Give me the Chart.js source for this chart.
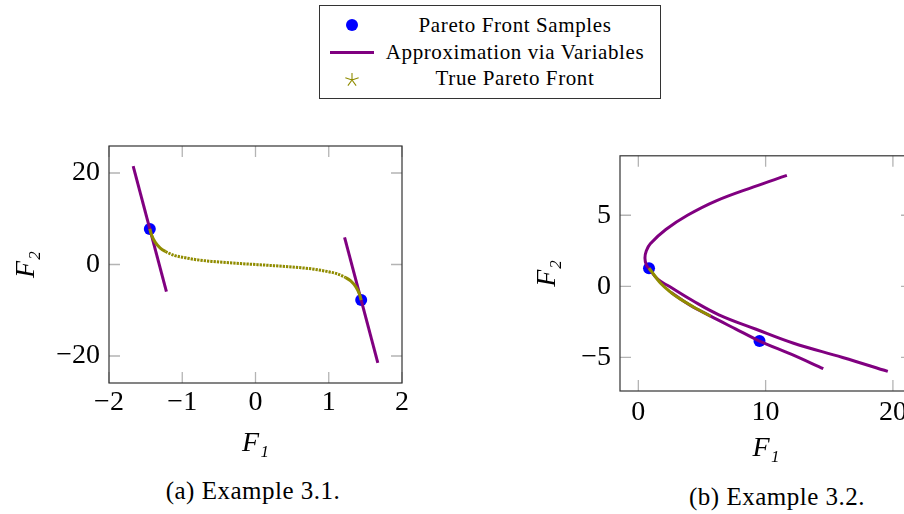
<!DOCTYPE html>
<html>
<head>
<meta charset="utf-8">
<title>Pareto fronts</title>
<script src="https://cdn.jsdelivr.net/npm/chart.js@4.4.1/dist/chart.umd.min.js"></script>
<style>
  html, body { margin: 0; padding: 0; background: #fff; overflow: hidden; }
  body { width: 904px; height: 514px; position: relative; font-family: "Liberation Serif", "DejaVu Serif", serif; color: #000; }
  .plot { position: absolute; }
  #legend { position: absolute; left: 319px; top: 5px; width: 342px; height: 94px; box-sizing: border-box; border: 1px solid #333; }
  .lg-text { position: absolute; left: 195px; transform: translate(-50%, -50%); white-space: nowrap; font-size: 21px; letter-spacing: 0.6px; line-height: 1; }
  .lg-dot { position: absolute; left: 26px; top: 13px; width: 12px; height: 12px; border-radius: 50%; background: #0000ff; }
  .lg-line { position: absolute; left: 10px; top: 45px; width: 44px; height: 3px; background: #800080; }
  .lg-star { position: absolute; left: 24px; top: 66px; }
  .caption { position: absolute; transform: translate(-50%, -50%); white-space: nowrap; font-size: 25px; letter-spacing: 0.5px; line-height: 1; }
</style>
</head>
<body>

<div id="legend">
  <span class="lg-dot"></span>
  <span class="lg-text" style="top:19px">Pareto Front Samples</span>
  <span class="lg-line"></span>
  <span class="lg-text" style="top:46px">Approximation via Variables</span>
  <svg class="lg-star" width="16" height="16" viewBox="-8 -8 16 16">
    <path d="M0 0L0 -7M0 0L6.66 -2.16M0 0L4.11 5.66M0 0L-4.11 5.66M0 0L-6.66 -2.16" stroke="#908c00" stroke-width="1.1" fill="none"/>
  </svg>
  <span class="lg-text" style="top:72px">True Pareto Front</span>
</div>

<div class="plot" style="left:0px; top:120px;"><canvas id="plotA" width="440" height="350"></canvas></div>
<div class="plot" style="left:520px; top:130px;"><canvas id="plotB" width="420" height="350"></canvas></div>

<div class="caption" style="left:253px; top:490px;">(a) Example 3.1.</div>
<div class="caption" style="left:777px; top:496px;">(b) Example 3.2.</div>

<script>
// ---- Example 3.1 ----
const ex1SampleF1 = [-1.443, 1.443];
const ex1SampleF2 = [7.77, -7.77];

// two linear approximations through the samples
const ex1ApproxLeftF1 = [-1.67, -1.216];
const ex1ApproxLeftF2 = [21.5, -5.95];
const ex1ApproxRightF1 = [1.216, 1.67];
const ex1ApproxRightF2 = [5.95, -21.5];

const ex1FrontF1 = [-1.443, -1.42, -1.37, -1.3, -1.23, -1.1, -1.0, -0.8, -0.6, -0.4, -0.2, 0,
                    0.2, 0.4, 0.6, 0.8, 1.0, 1.1, 1.23, 1.3, 1.37, 1.42, 1.443];
const ex1FrontF2 = [7.77, 6.5, 4.9, 3.6, 2.85, 1.95, 1.6, 1.03, 0.68, 0.42, 0.2, 0,
                    -0.2, -0.42, -0.68, -1.03, -1.6, -1.95, -2.85, -3.6, -4.9, -6.5, -7.77];

const ex1TicksF1 = [-2, -1, 0, 1, 2];
const ex1TicksF2 = [-20, 0, 20];

// ---- Example 3.2 ----
const ex2SampleF1 = [0.84, 9.52];
const ex2SampleF2 = [1.28, -3.85];

// upper approximation bends back on itself, so it is listed top to bottom in F2
const ex2ApproxUpperF1 = [11.67, 9.06, 6.07, 3.86, 2.16, 0.94, 0.63, 0.52, 0.63, 0.84, 1.52, 2.42,
                          4.25, 6.33, 9.2, 12.2, 16.05, 19.6];
const ex2ApproxUpperF2 = [7.8, 7.0, 6.0, 5.0, 4.0, 3.0, 2.5, 2.0, 1.5, 1.25, 0.5, 0,
                          -1, -2, -3, -4, -5, -5.98];
const ex2ApproxLowerF1 = [2.55, 4.0, 5.68, 7.63, 9.52, 12.0, 14.53];
const ex2ApproxLowerF2 = [-0.42, -1.3, -2.1, -2.99, -3.85, -4.77, -5.79];

const ex2FrontF1 = [0.84, 0.99, 1.77, 2.55, 3.08, 4.38, 5.68];
const ex2FrontF2 = [1.28, 1.1, 0.2, -0.42, -0.77, -1.47, -2.1];

const ex2TicksF1 = [0, 10, 20];
const ex2TicksF2 = [-5, 0, 5];

const BLUE = '#0000ff';
const PURPLE = '#800080';
const OLIVE = '#908c00';
const FONT = '"Liberation Serif", "DejaVu Serif", serif';

function pairs(xs, ys) {
  return xs.map((x, i) => ({ x: x, y: ys[i] }));
}

function minusLabel(v) {
  return v < 0 ? '\u2212' + Math.abs(v) : String(v);
}

// box around the plot area with inward ticks on all four sides
const framePlugin = {
  id: 'frame',
  beforeDatasetsDraw(chart) {
    const { ctx, chartArea: a, scales } = chart;
    const len = 11;
    ctx.save();
    ctx.strokeStyle = '#b4b4b4';
    ctx.lineWidth = 1.3;
    ctx.beginPath();
    scales.x.ticks.forEach(t => {
      const px = scales.x.getPixelForValue(t.value);
      ctx.moveTo(px, a.bottom); ctx.lineTo(px, a.bottom - len);
      ctx.moveTo(px, a.top); ctx.lineTo(px, a.top + len);
    });
    scales.y.ticks.forEach(t => {
      const py = scales.y.getPixelForValue(t.value);
      ctx.moveTo(a.left, py); ctx.lineTo(a.left + len, py);
      ctx.moveTo(a.right, py); ctx.lineTo(a.right - len, py);
    });
    ctx.stroke();
    ctx.strokeStyle = '#333';
    ctx.lineWidth = 1.2;
    ctx.strokeRect(a.left, a.top, a.right - a.left, a.bottom - a.top);
    ctx.restore();
  }
};

function makePlot(id, cfg) {
  const tickFont = { family: FONT, size: 28 };
  const titleFont = { family: FONT, size: 28, style: 'italic' };
  return new Chart(document.getElementById(id), {
    type: 'scatter',
    data: { datasets: cfg.datasets },
    options: {
      responsive: false,
      animation: false,
      devicePixelRatio: 1,
      events: [],
      layout: { padding: cfg.padding },
      plugins: { legend: { display: false }, tooltip: { enabled: false } },
      scales: {
        x: {
          min: cfg.xMin, max: cfg.xMax,
          grid: { display: false, drawTicks: false },
          border: { display: false },
          afterBuildTicks: s => { s.ticks = cfg.xTicks.map(v => ({ value: v })); },
          afterFit: s => { s.height = cfg.xAxisHeight; },
          ticks: { font: tickFont, color: '#000', padding: cfg.xTickPad, callback: minusLabel, maxRotation: 0 },
          title: { display: true, text: 'F\u2081', font: titleFont, color: '#000', padding: { top: 0, bottom: cfg.xTitlePad } }
        },
        y: {
          min: cfg.yMin, max: cfg.yMax,
          grid: { display: false, drawTicks: false },
          border: { display: false },
          afterBuildTicks: s => { s.ticks = cfg.yTicks.map(v => ({ value: v })); },
          afterFit: s => { s.width = cfg.yAxisWidth; },
          ticks: { font: tickFont, color: '#000', padding: 9, callback: minusLabel },
          title: { display: true, text: 'F\u2082', font: titleFont, color: '#000', padding: { top: cfg.yTitlePad, bottom: 0 } }
        }
      }
    },
    plugins: [framePlugin]
  });
}

function samplesSet(xs, ys) {
  return { data: pairs(xs, ys), showLine: false, pointRadius: 6, pointBackgroundColor: BLUE,
           pointBorderWidth: 0, order: 3 };
}

function approxSet(xs, ys, extra) {
  return Object.assign({ data: pairs(xs, ys), showLine: true, borderColor: PURPLE, borderWidth: 3,
           pointRadius: 0, tension: 0, order: 2 }, extra || {});
}

// Example 3.1: true front drawn as dense markers, dotted where flat
makePlot('plotA', {
  padding: { top: 26, right: 38, left: 0, bottom: 0 },
  xMin: -2, xMax: 2, yMin: -25.9, yMax: 25.9,
  xTicks: ex1TicksF1, yTicks: ex1TicksF2,
  xAxisHeight: 87, yAxisWidth: 109, xTickPad: 3, xTitlePad: 10, yTitlePad: 10,
  datasets: [
    samplesSet(ex1SampleF1, ex1SampleF2),
    approxSet(ex1ApproxLeftF1, ex1ApproxLeftF2),
    approxSet(ex1ApproxRightF1, ex1ApproxRightF2),
    {
      data: pairs(ex1FrontF1, ex1FrontF2), showLine: true, borderColor: OLIVE, borderWidth: 3,
      pointRadius: 0, cubicInterpolationMode: 'monotone', order: 1,
      segment: {
        borderDash: c => Math.abs(c.p1.y - c.p0.y) < 0.5 * Math.abs(c.p1.x - c.p0.x) ? [2.3, 1.0] : undefined
      }
    }
  ]
});

// Example 3.2
makePlot('plotB', {
  padding: { top: 25, right: 28, left: 0, bottom: 0 },
  xMin: -1.44, xMax: 21.5, yMin: -7.36, yMax: 9.18,
  xTicks: ex2TicksF1, yTicks: ex2TicksF2,
  xAxisHeight: 89, yAxisWidth: 100, xTickPad: 5, xTitlePad: 15, yTitlePad: 11,
  datasets: [
    samplesSet(ex2SampleF1, ex2SampleF2),
    approxSet(ex2ApproxUpperF1, ex2ApproxUpperF2, { tension: 0.4 }),
    approxSet(ex2ApproxLowerF1, ex2ApproxLowerF2, { cubicInterpolationMode: 'monotone' }),
    {
      data: pairs(ex2FrontF1, ex2FrontF2), showLine: true, borderColor: OLIVE, borderWidth: 3,
      pointRadius: 0, cubicInterpolationMode: 'monotone', order: 1
    }
  ]
});
</script>
</body>
</html>
